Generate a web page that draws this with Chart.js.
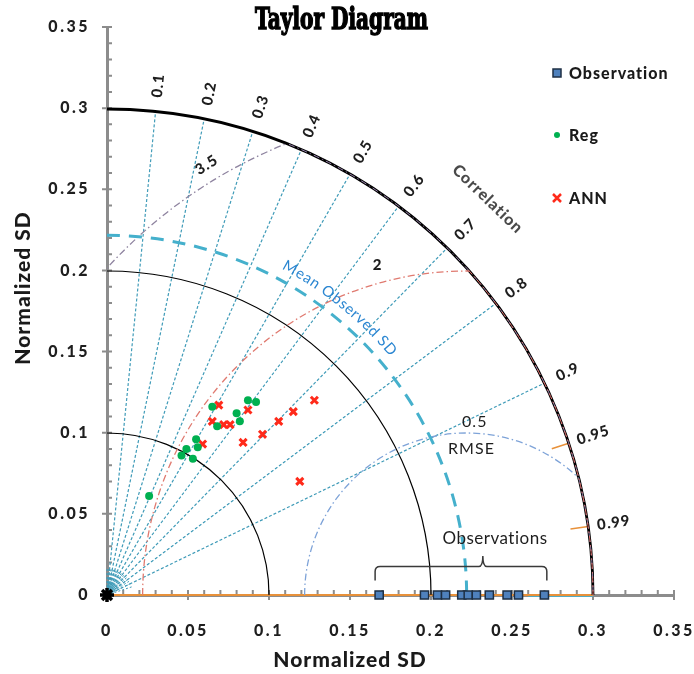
<!DOCTYPE html>
<html><head><meta charset="utf-8">
<script src="https://cdn.jsdelivr.net/npm/chart.js@4.4.1/dist/chart.umd.min.js"></script>
<style>html,body{margin:0;padding:0;background:#fff}canvas{display:block}</style>
</head><body>
<canvas id="c" width="694" height="674"></canvas>
<script>
// ---- data ----
const sdTicks = [0, 0.05, 0.1, 0.15, 0.2, 0.25, 0.3, 0.35];
const sdTickLabels = ['0', '0.05', '0.1', '0.15', '0.2', '0.25', '0.3', '0.35'];
const sdArcs = [0.1, 0.2, 0.3];
const corrLines = [0.1, 0.2, 0.3, 0.4, 0.5, 0.6, 0.7, 0.8, 0.9];
const corrLabels = ['0.1','0.2','0.3','0.4','0.5','0.6','0.7','0.8','0.9','0.95','0.99'];
const corrLabelValues = [0.1,0.2,0.3,0.4,0.5,0.6,0.7,0.8,0.9,0.95,0.99];
const corrMarks = [0.95, 0.99];
const meanObsSD = 0.222;
const rmseRadii = [0.1, 0.2, 0.3];
const rmseLabels = ['0.5', '2', '3.5'];
const obsSD = [0.168, 0.196, 0.204, 0.209, 0.219, 0.223, 0.228, 0.236, 0.247, 0.254, 0.270];
const regX = [0.026, 0.046, 0.049, 0.053, 0.055, 0.056, 0.065, 0.068, 0.080, 0.082, 0.087, 0.092];
const regY = [0.061, 0.086, 0.090, 0.084, 0.096, 0.091, 0.116, 0.104, 0.112, 0.107, 0.120, 0.119];
const annX = [0.059, 0.065, 0.069, 0.072, 0.076, 0.084, 0.087, 0.096, 0.106, 0.115, 0.128, 0.119];
const annY = [0.093, 0.107, 0.117, 0.105, 0.105, 0.094, 0.114, 0.099, 0.107, 0.113, 0.120, 0.070];
const seriesNames = ['Observation', 'Reg', 'ANN'];

const FONT = 'Lato, "Open Sans", sans-serif';

function ptsXY(xs, ys){ return xs.map((x,i)=>({x:x, y:ys[i]})); }

const taylor = {
  id: 'taylor',
  beforeDraw(chart){ chart.ctx.letterSpacing = '2.5px'; },
  beforeDatasetsDraw(chart){
    const ctx = chart.ctx, xs = chart.scales.x, ys = chart.scales.y;
    ctx.letterSpacing = '0px';
    const X = v => xs.getPixelForValue(v), Y = v => ys.getPixelForValue(v);
    const ox = X(0), oy = Y(0), R = v => X(v) - X(0);
    ctx.save();
    // axis ticks
    ctx.strokeStyle = '#8c8c8c'; ctx.lineWidth = 2;
    for (let i = 0; i <= 35; i++) {
      const v = i/100, major = i % 5 === 0;
      ctx.beginPath();
      if (major) { ctx.moveTo(X(v), oy+5); ctx.lineTo(X(v), oy-5); ctx.moveTo(ox-5, Y(v)); ctx.lineTo(ox+5, Y(v)); }
      else { ctx.moveTo(X(v), oy); ctx.lineTo(X(v), oy-5); ctx.moveTo(ox, Y(v)); ctx.lineTo(ox+5, Y(v)); }
      ctx.stroke();
    }
    // x-axis cyan + orange line
    ctx.strokeStyle = '#3fb6d6'; ctx.lineWidth = 1.5;
    ctx.beginPath(); ctx.moveTo(X(0.26), oy+1); ctx.lineTo(X(0.3), oy+1); ctx.stroke();
    ctx.strokeStyle = '#e8913a'; ctx.lineWidth = 2;
    ctx.beginPath(); ctx.moveTo(ox, oy); ctx.lineTo(X(0.3), oy); ctx.stroke();

    // correlation fan near origin
    ctx.strokeStyle = '#3f9bb8'; ctx.lineWidth = 1; ctx.setLineDash([2,2]);
    for (let k = 0; k <= 19; k++) {
      const a = Math.acos(k/20);
      ctx.beginPath(); ctx.moveTo(ox, oy); ctx.lineTo(ox + R(0.016)*Math.cos(a), oy - R(0.016)*Math.sin(a)); ctx.stroke();
    }
    // correlation lines
    ctx.lineWidth = 1.2; ctx.setLineDash([3,2]);
    corrLines.forEach(c => {
      const a = Math.acos(c);
      ctx.beginPath(); ctx.moveTo(ox, oy); ctx.lineTo(ox + R(0.3)*Math.cos(a), oy - R(0.3)*Math.sin(a)); ctx.stroke();
    });
    ctx.setLineDash([]);
    // orange short marks
    ctx.strokeStyle = '#e8913a'; ctx.lineWidth = 1.5;
    corrMarks.forEach(c => {
      const a = Math.acos(c);
      ctx.beginPath();
      ctx.moveTo(ox + R(0.289)*Math.cos(a), oy - R(0.289)*Math.sin(a));
      ctx.lineTo(ox + R(0.3)*Math.cos(a), oy - R(0.3)*Math.sin(a)); ctx.stroke();
    });

    // SD arcs
    sdArcs.forEach((r, i) => {
      ctx.strokeStyle = '#000'; ctx.lineWidth = i === sdArcs.length-1 ? 2.8 : 1.2;
      ctx.beginPath(); ctx.arc(ox, oy, R(r), -Math.PI/2, 0); ctx.stroke();
    });

    // RMSE circles, clipped to quarter disk
    const rmseColors = ['#7ea3d8', '#e07a70', '#8f84a0'];
    ctx.save();
    ctx.beginPath(); ctx.moveTo(ox, oy); ctx.arc(ox, oy, R(0.3), -Math.PI/2, 0); ctx.closePath(); ctx.clip();
    rmseRadii.forEach((r, i) => {
      ctx.strokeStyle = rmseColors[i]; ctx.lineWidth = 1.3; ctx.setLineDash([7,3,1.5,3]);
      ctx.beginPath(); ctx.arc(X(meanObsSD), oy, R(r), Math.PI, 2*Math.PI); ctx.stroke();
    });
    ctx.restore();
    // overlays along outer arc
    ctx.lineWidth = 1; ctx.setLineDash([6,3,1.5,3]);
    ctx.strokeStyle = '#9b86b0';
    ctx.beginPath(); ctx.arc(ox, oy, R(0.3), -68*Math.PI/180, 0); ctx.stroke();
    ctx.strokeStyle = '#e0706a';
    ctx.beginPath(); ctx.arc(ox, oy, R(0.3), -42*Math.PI/180, 0); ctx.stroke();
    ctx.setLineDash([]);

    // Mean observed SD
    ctx.strokeStyle = '#45b0cc'; ctx.lineWidth = 3; ctx.setLineDash([13,9]);
    ctx.beginPath(); ctx.arc(ox, oy, R(meanObsSD), -Math.PI/2, 0); ctx.stroke();
    ctx.setLineDash([]);

    // Observations brace
    ctx.strokeStyle = '#3a3a3a'; ctx.lineWidth = 1.5;
    const bl = X(0.1655), br = X(0.2715), bm = X(0.232), yb = Y(0.009), yt = Y(0.0175), yp = Y(0.024), rr = 5;
    ctx.beginPath();
    ctx.moveTo(bl, yb); ctx.lineTo(bl, yt+rr); ctx.quadraticCurveTo(bl, yt, bl+rr, yt);
    ctx.lineTo(bm-4, yt); ctx.quadraticCurveTo(bm, yt, bm, yp);
    ctx.quadraticCurveTo(bm, yt, bm+4, yt);
    ctx.lineTo(br-rr, yt); ctx.quadraticCurveTo(br, yt, br, yt+rr); ctx.lineTo(br, yb);
    ctx.stroke();
    ctx.restore();
  },
  afterDatasetsDraw(chart){
    const ctx = chart.ctx, xs = chart.scales.x, ys = chart.scales.y;
    const X = v => xs.getPixelForValue(v), Y = v => ys.getPixelForValue(v);
    const ox = X(0), oy = Y(0), R = v => X(v) - X(0);
    ctx.save();
    ctx.textAlign = 'center'; ctx.textBaseline = 'middle';
    // correlation labels
    ctx.fillStyle = '#1e1e1e'; ctx.font = '900 15px ' + FONT; ctx.letterSpacing = '1px';
    corrLabelValues.forEach((c, i) => {
      const a = Math.acos(c);
      const px = ox + R(0.316)*Math.cos(a), py = oy - R(0.316)*Math.sin(a);
      ctx.save(); ctx.translate(px, py); ctx.rotate(-a); ctx.fillText(corrLabels[i], 0, 0); ctx.restore();
    });
    // Correlation title
    ctx.fillStyle = '#4a4a4a'; ctx.font = '900 16px ' + FONT; ctx.letterSpacing = '1px';
    ctx.save(); ctx.translate(X(0.235), Y(0.244)); ctx.rotate(44*Math.PI/180); ctx.fillText('Correlation', 0, 0); ctx.restore();

    // Mean Observed SD along arc
    ctx.fillStyle = '#2a86d1'; ctx.font = '15px ' + FONT; ctx.letterSpacing = '0px';
    const txt = 'Mean Observed SD', chars = [...txt];
    const w = chars.map(ch => ctx.measureText(ch).width), tot = w.reduce((a,b)=>a+b,0);
    const a0 = 62*Math.PI/180, a1 = 40*Math.PI/180, Rr = R(0.2315);
    const k = (a0-a1)*Rr/tot;
    let acc = 0;
    chars.forEach((ch, i) => {
      const ang = a0 - (acc + w[i]/2)*k/Rr; acc += w[i];
      ctx.save(); ctx.translate(ox + Rr*Math.cos(ang), oy - Rr*Math.sin(ang)); ctx.rotate(Math.PI/2 - ang);
      ctx.fillText(ch, 0, 0); ctx.restore();
    });

    // RMSE labels
    ctx.fillStyle = '#1e1e1e';
    ctx.font = '900 15px ' + FONT; ctx.letterSpacing = '1px';
    ctx.save(); ctx.translate(X(0.0615), Y(0.265)); ctx.rotate(-33*Math.PI/180); ctx.fillText(rmseLabels[2], 0, 0); ctx.restore();
    ctx.fillText(rmseLabels[1], X(0.167), Y(0.203));
    ctx.font = '16px ' + FONT;
    ctx.fillText(rmseLabels[0], X(0.227), Y(0.107));
    ctx.fillText('RMSE', X(0.225), Y(0.090));
    ctx.font = '17px ' + FONT; ctx.letterSpacing = '0.5px';
    ctx.fillText('Observations', X(0.2395), Y(0.0345));

    // legend
    ctx.textAlign = 'left'; ctx.font = '900 16px ' + FONT; ctx.letterSpacing = '1px';
    const lx = 557, ly = [73, 135, 198];
    ctx.fillStyle = '#4f81bd'; ctx.strokeStyle = '#1e2f44'; ctx.lineWidth = 1.5;
    ctx.fillRect(lx-4, ly[0]-4, 8, 8); ctx.strokeRect(lx-4, ly[0]-4, 8, 8);
    ctx.fillStyle = '#00b050'; ctx.beginPath(); ctx.arc(lx, ly[1], 3, 0, 2*Math.PI); ctx.fill();
    ctx.strokeStyle = '#ff2a1a'; ctx.lineWidth = 2.5; ctx.beginPath();
    ctx.moveTo(lx-4, ly[2]-4); ctx.lineTo(lx+4, ly[2]+4); ctx.moveTo(lx+4, ly[2]-4); ctx.lineTo(lx-4, ly[2]+4); ctx.stroke();
    ctx.fillStyle = '#1a1a1a';
    seriesNames.forEach((n, i) => ctx.fillText(n, 569, ly[i]+1));

    // axis titles
    ctx.textAlign = 'center'; ctx.font = '900 21px ' + FONT; ctx.letterSpacing = '1px'; ctx.fillStyle = '#1a1a1a';
    ctx.fillText('Normalized SD', 350, 660);
    ctx.save(); ctx.translate(23, 288); ctx.rotate(-Math.PI/2); ctx.fillText('Normalized SD', 0, 0); ctx.restore();

    // title
    ctx.letterSpacing = '0px';
    ctx.font = 'bold 30px "DejaVu Serif Condensed", "DejaVu Serif", serif';
    ctx.textBaseline = 'alphabetic';
    const tw = ctx.measureText('Taylor Diagram').width;
    ctx.save(); ctx.translate(341.5, 29); ctx.scale(173/tw, 1);
    ctx.fillStyle = '#000'; ctx.strokeStyle = '#000'; ctx.lineWidth = 1.4;
    ctx.fillText('Taylor Diagram', 0, 0); ctx.strokeText('Taylor Diagram', 0, 0);
    ctx.restore();
    ctx.restore();
  }
};

new Chart(document.getElementById('c'), {
  type: 'scatter',
  data: {
    datasets: [
      { label: seriesNames[0], data: obsSD.map(v => ({x: v, y: 0})), pointStyle: 'rect', pointRadius: 5.8,
        backgroundColor: '#4f81bd', borderColor: '#1e2f44', borderWidth: 1.5, clip: false },
      { label: seriesNames[1], data: ptsXY(regX, regY), pointStyle: 'circle', pointRadius: 4,
        backgroundColor: '#00b050', borderColor: '#00b050', borderWidth: 0, clip: false },
      { label: seriesNames[2], data: ptsXY(annX, annY), pointStyle: 'crossRot', pointRadius: 5,
        backgroundColor: '#ff2a1a', borderColor: '#ff2a1a', borderWidth: 3, clip: false },
      { label: 'origin', data: [{x: 0, y: 0}], pointStyle: 'star', pointRadius: 7,
        borderColor: '#000', backgroundColor: '#000', borderWidth: 3.5, clip: false }
    ]
  },
  options: {
    responsive: false, animation: false, devicePixelRatio: 1,
    layout: { padding: { left: 0, right: 20, top: 27, bottom: 0 } },
    plugins: { legend: { display: false }, title: { display: false }, tooltip: { enabled: false } },
    scales: {
      x: {
        type: 'linear', min: 0, max: 0.35,
        afterFit: s => { s.height = 79; s.paddingLeft = 0; s.paddingRight = 0; },
        afterBuildTicks: s => { s.ticks = sdTicks.map(v => ({value: v})); },
        ticks: { callback: (v, i) => sdTickLabels[i], color: '#1e1e1e', padding: 26,
                 font: { family: FONT, weight: '900', size: 16 }, maxRotation: 0, autoSkip: false },
        grid: { display: false, drawTicks: false },
        border: { display: true, color: '#8c8c8c', width: 3 }
      },
      y: {
        type: 'linear', min: 0, max: 0.35,
        afterFit: s => { s.width = 107; s.paddingTop = 0; s.paddingBottom = 0; },
        afterBuildTicks: s => { s.ticks = sdTicks.map(v => ({value: v})); },
        ticks: { callback: (v, i) => sdTickLabels[i], color: '#1e1e1e', padding: 17,
                 font: { family: FONT, weight: '900', size: 16 }, autoSkip: false },
        grid: { display: false, drawTicks: false },
        border: { display: true, color: '#8c8c8c', width: 3 }
      }
    }
  },
  plugins: [taylor]
});
</script>
</body></html>
